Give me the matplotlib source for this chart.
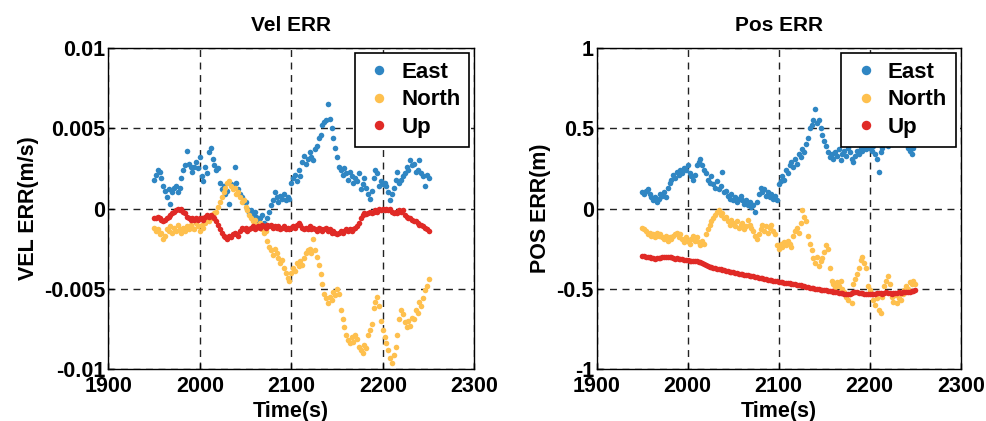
import numpy as np
import matplotlib
matplotlib.use("Agg")
import matplotlib.pyplot as plt

plt.rcParams['font.family'] = ['Liberation Sans', 'DejaVu Sans']
plt.rcParams['font.weight'] = 'bold'

# time stamps (s), one sample every 2 s
tiempo = np.arange(1950, 2251, 2)

# velocity errors, read in units of 1e-3 m/s
vel_east = [1.8, 2.1, 2.4, 2.3, 1.9, 1.4, 1.1, 0.7, 1.2, 0.3,
            1.0, 1.3, 1.4, 1.0, 1.3, 1.9, 2.4, 2.7, 3.6, 2.8,
            2.6, 2.3, 2.6, 2.9, 2.5, 3.2, 2.0, 1.7, 2.6, 2.2,
            3.5, 3.8, 3.1, 2.7, 2.4, 2.5, 1.6, 1.2, 1.4, 0.9,
            1.1, 0.3, 1.5, 1.4, 2.6, 1.6, 1.2, 0.9, 0.7, 0.4,
            0.4, 0.0, -0.3, -0.1, -0.4, -0.2, -0.5, -0.8, -0.6, -0.4,
            -0.9, -1.0, -0.6, -0.2, 0.2, 0.5, 1.0, 0.7, 0.4, 0.8,
            0.6, 0.9, 0.5, 0.7, 0.6, 1.6, 1.9, 2.1, 1.7, 2.4,
            2.0, 2.9, 3.3, 2.8, 3.1, 3.5, 3.2, 3.0, 3.7, 3.9,
            4.4, 4.6, 5.2, 5.4, 5.5, 6.5, 5.6, 5.0, 4.4, 3.8,
            3.2, 2.6, 2.4, 2.1, 2.5, 2.2, 1.8, 2.3, 2.0, 1.6,
            1.9, 1.7, 2.2, 1.2, 1.5, 1.9, 1.3, 0.9, 0.6, 1.1,
            1.9, 2.4, 2.2, 1.4, 1.7, 1.5, 1.6, 1.4, 1.0, 0.5,
            0.9, 1.3, 1.8, 2.3, 1.6, 1.8, 2.0, 2.2, 2.6, 2.4,
            3.0, 2.7, 2.8, 2.3, 2.4, 3.0, 2.2, 2.0, 1.4, 2.1,
            1.9]
vel_north = [-1.2, -1.4, -1.3, -1.6, -1.5, -1.9, -1.7, -1.3, -1.4, -1.1,
             -1.5, -1.2, -1.4, -1.0, -1.3, -1.5, -1.2, -1.4, -1.1, -1.3,
             -1.0, -1.2, -1.3, -0.9, -1.1, -1.4, -1.0, -1.2, -0.9, -0.7,
             -0.8, -0.5, -0.6, -0.3, -0.2, 0.1, 0.4, 0.7, 1.0, 1.3,
             1.6, 1.7, 1.4, 1.2, 1.3, 0.9, 1.0, 0.7, 0.4, 0.5,
             0.1, -0.1, -0.4, -0.6, -0.8, -0.7, -1.0, -1.1, -0.9, -1.3,
             -1.5, -1.4, -2.0, -2.4, -2.6, -2.9, -2.5, -2.8, -3.1, -3.4,
             -3.2, -3.7, -4.0, -4.3, -4.5, -4.0, -3.7, -3.9, -3.4, -3.6,
             -3.3, -3.5, -3.1, -2.8, -2.6, -2.5, -2.8, -1.9, -2.6, -3.0,
             -3.5, -4.1, -4.7, -5.3, -5.6, -5.9, -5.5, -5.7, -5.2, -5.4,
             -5.0, -5.3, -6.3, -6.9, -7.4, -7.9, -8.2, -8.4, -8.0, -8.3,
             -7.9, -8.1, -8.6, -8.8, -9.0, -8.5, -8.7, -7.9, -7.6, -7.2,
             -6.2, -5.8, -5.5, -6.1, -7.0, -7.6, -8.0, -8.4, -8.8, -9.3,
             -9.6, -9.1, -8.6, -7.9, -6.9, -6.3, -6.6, -7.1, -7.4, -7.0,
             -7.3, -6.8, -6.9, -6.3, -6.5, -5.8, -6.1, -5.6, -5.1, -4.8,
             -4.4]
vel_up = [-0.6, -0.6, -0.5, -0.6, -0.7, -0.8, -0.7, -0.6, -0.5, -0.4,
          -0.3, -0.2, -0.1, 0.0, -0.1, 0.0, -0.2, -0.3, -0.5, -0.6,
          -0.7, -0.6, -0.7, -0.6, -0.7, -0.6, -0.6, -0.7, -0.5, -0.4,
          -0.5, -0.4, -0.5, -0.6, -0.8, -1.0, -1.3, -1.5, -1.7, -1.8,
          -1.9, -1.7, -1.8, -1.6, -1.5, -1.6, -1.7, -1.4, -1.2, -1.3,
          -1.2, -1.4, -1.3, -1.2, -1.1, -1.3, -1.2, -1.1, -1.2, -1.0,
          -1.1, -1.2, -1.0, -1.1, -1.0, -1.2, -1.1, -1.2, -1.1, -1.3,
          -1.2, -1.1, -1.3, -1.2, -1.3, -1.2, -1.1, -1.2, -1.0, -0.9,
          -1.0, -1.2, -1.3, -1.2, -1.3, -1.1, -1.3, -1.2, -1.3, -1.4,
          -1.2, -1.3, -1.4, -1.3, -1.2, -1.4, -1.3, -1.5, -1.4, -1.5,
          -1.6, -1.5, -1.4, -1.5, -1.4, -1.3, -1.4, -1.3, -1.4, -1.3,
          -1.2, -1.1, -0.9, -0.6, -0.4, -0.3, -0.35, -0.3, -0.2, -0.3,
          -0.2, -0.1, -0.2, 0.0, -0.1, 0.0, -0.1, 0.0, -0.1, -0.05,
          -0.2, -0.3, -0.2, -0.3, -0.1, -0.2, -0.1, -0.4, -0.5, -0.6,
          -0.6, -0.7, -0.8, -0.8, -0.9, -1.0, -1.0, -1.1, -1.2, -1.3,
          -1.4]

# position errors (m)
pos_east = [0.10, 0.09, 0.11, 0.12, 0.09, 0.07, 0.05, 0.07, 0.04, 0.06,
            0.09, 0.08, 0.10, 0.07, 0.13, 0.16, 0.18, 0.21, 0.19, 0.23,
            0.21, 0.24, 0.22, 0.25, 0.24, 0.27, 0.22, 0.20, 0.18, 0.21,
            0.27, 0.29, 0.31, 0.27, 0.24, 0.22, 0.18, 0.16, 0.20, 0.15,
            0.13, 0.17, 0.12, 0.14, 0.23, 0.10, 0.11, 0.08, 0.06, 0.09,
            0.05, 0.07, 0.04, 0.06, 0.08, 0.05, 0.03, 0.05, 0.02, 0.04,
            0.01, 0.02, -0.02, 0.04, 0.09, 0.13, 0.10, 0.12, 0.08, 0.10,
            0.07, 0.09, 0.06, 0.08, 0.05, 0.15, 0.17, 0.20, 0.18, 0.24,
            0.22, 0.27, 0.29, 0.26, 0.31, 0.28, 0.34, 0.32, 0.37, 0.35,
            0.40, 0.44, 0.50, 0.52, 0.55, 0.62, 0.53, 0.55, 0.50, 0.46,
            0.42, 0.39, 0.35, 0.32, 0.34, 0.31, 0.35, 0.33, 0.37, 0.30,
            0.34, 0.36, 0.33, 0.38, 0.35, 0.31, 0.29, 0.33, 0.36, 0.34,
            0.38, 0.36, 0.39, 0.37, 0.40, 0.38, 0.36, 0.39, 0.34, 0.31,
            0.23, 0.35, 0.38, 0.40, 0.41, 0.39, 0.42, 0.40, 0.43, 0.44,
            0.42, 0.45, 0.43, 0.44, 0.41, 0.40, 0.38, 0.36, 0.34, 0.38,
            0.40]
pos_north = [-0.12, -0.13, -0.14, -0.16, -0.15, -0.17, -0.16, -0.18, -0.15, -0.17,
             -0.16, -0.18, -0.19, -0.17, -0.20, -0.18, -0.19, -0.17, -0.16, -0.15,
             -0.18, -0.16, -0.19, -0.21, -0.18, -0.20, -0.22, -0.19, -0.17, -0.20,
             -0.18, -0.21, -0.23, -0.20, -0.22, -0.16, -0.13, -0.10, -0.08, -0.06,
             -0.04, -0.02, -0.01, -0.04, -0.03, -0.06, -0.05, -0.08, -0.10, -0.07,
             -0.09, -0.11, -0.08, -0.12, -0.10, -0.09, -0.13, -0.11, -0.07, -0.10,
             -0.12, -0.14, -0.17, -0.19, -0.16, -0.13, -0.10, -0.14, -0.11, -0.15,
             -0.12, -0.10, -0.14, -0.16, -0.23, -0.25, -0.22, -0.24, -0.21, -0.23,
             -0.20, -0.22, -0.24, -0.17, -0.14, -0.12, -0.15, -0.09, -0.01, -0.05,
             -0.08, -0.17, -0.22, -0.26, -0.31, -0.34, -0.30, -0.36, -0.33, -0.31,
             -0.27, -0.23, -0.25, -0.37, -0.45, -0.47, -0.49, -0.46, -0.48, -0.45,
             -0.50, -0.52, -0.55, -0.57, -0.53, -0.59, -0.47, -0.44, -0.41, -0.37,
             -0.32, -0.30, -0.34, -0.37, -0.48, -0.51, -0.53, -0.57, -0.60, -0.56,
             -0.63, -0.65, -0.55, -0.48, -0.45, -0.42, -0.47, -0.55, -0.58, -0.54,
             -0.59, -0.56, -0.57, -0.53, -0.51, -0.48, -0.50, -0.46, -0.47, -0.45,
             -0.47]
pos_up = [-0.295, -0.297, -0.300, -0.302, -0.305, -0.310, -0.310, -0.312, -0.310, -0.308,
          -0.306, -0.305, -0.304, -0.303, -0.300, -0.302, -0.305, -0.310, -0.312, -0.310,
          -0.313, -0.315, -0.316, -0.318, -0.320, -0.322, -0.325, -0.326, -0.327, -0.328,
          -0.330, -0.332, -0.335, -0.340, -0.346, -0.352, -0.358, -0.363, -0.367, -0.370,
          -0.373, -0.376, -0.378, -0.380, -0.383, -0.386, -0.388, -0.390, -0.393, -0.396,
          -0.398, -0.400, -0.403, -0.405, -0.408, -0.410, -0.412, -0.414, -0.416, -0.418,
          -0.420, -0.423, -0.425, -0.428, -0.430, -0.433, -0.436, -0.438, -0.440, -0.443,
          -0.446, -0.448, -0.450, -0.452, -0.454, -0.455, -0.457, -0.460, -0.462, -0.464,
          -0.465, -0.467, -0.469, -0.470, -0.472, -0.474, -0.476, -0.478, -0.480, -0.484,
          -0.488, -0.491, -0.494, -0.496, -0.498, -0.500, -0.502, -0.503, -0.505, -0.506,
          -0.508, -0.510, -0.512, -0.514, -0.516, -0.518, -0.520, -0.522, -0.524, -0.526,
          -0.528, -0.530, -0.532, -0.534, -0.530, -0.525, -0.520, -0.518, -0.520, -0.524,
          -0.526, -0.528, -0.530, -0.532, -0.534, -0.530, -0.532, -0.535, -0.530, -0.526,
          -0.524, -0.528, -0.530, -0.526, -0.522, -0.525, -0.528, -0.530, -0.527, -0.524,
          -0.526, -0.523, -0.525, -0.522, -0.520, -0.523, -0.520, -0.518, -0.515, -0.512,
          -0.510]

nombres = ["East", "North", "Up"]
colores = ["#2f86c3", "#fec04e", "#e02a26"]

xt = [1900, 2000, 2100, 2200, 2300]
yt_vel = [-0.01, -0.005, 0, 0.005, 0.01]
ylab_vel = ["-0.01", "-0.005", "0", "0.005", "0.01"]
yt_pos = [-1, -0.5, 0, 0.5, 1]
ylab_pos = ["-1", "-0.5", "0", "0.5", "1"]

fig = plt.figure(figsize=(9.87, 4.21), dpi=100)
ax1 = fig.add_axes([0.1097, 0.1235, 0.3708, 0.7625])
ax2 = fig.add_axes([0.6046, 0.1235, 0.3688, 0.7625])

series_vel = [np.array(vel_east) * 1e-3, np.array(vel_north) * 1e-3, np.array(vel_up) * 1e-3]
series_pos = [pos_east, pos_north, pos_up]

def dibujar(ax, series, titulo, ylabel, yt, ylab):
    for s, nom, col in zip(series, nombres, colores):
        ax.plot(tiempo, s, "o", ms=4.0, mec="none", color=col, label=nom)
    ax.set_xlim(1900, 2300)
    ax.set_ylim(yt[0], yt[-1])
    ax.set_xticks(xt)
    ax.set_xticklabels([str(v) for v in xt])
    ax.set_yticks(yt)
    ax.set_yticklabels(ylab)
    ax.tick_params(direction="in", length=4, width=1, labelsize=15.5)
    ax.tick_params(axis="x", pad=5)
    ax.tick_params(axis="y", pad=2)
    ax.grid(True, color="#222222", linestyle=(0, (5, 4)), linewidth=1)
    for sp in ax.spines.values():
        sp.set_linewidth(1)
    ax.set_title(titulo, fontsize=15, fontweight="bold", pad=12)
    ax.set_xlabel("Time(s)", fontsize=15.5, fontweight="bold", labelpad=3)
    ax.set_ylabel(ylabel, fontsize=15.5, fontweight="bold", labelpad=4)
    leg = ax.legend(loc="upper right", bbox_to_anchor=(0.987, 0.985), borderaxespad=0,
                    fontsize=16, markerscale=1.7, handlelength=1.4, handletextpad=0.3,
                    labelspacing=0.3, fancybox=False, framealpha=1, edgecolor="black")
    leg.get_frame().set_linewidth(1.2)
    leg.set_zorder(5)

dibujar(ax1, series_vel, "Vel ERR", "VEL ERR(m/s)", yt_vel, ylab_vel)
dibujar(ax2, series_pos, "Pos ERR", "POS ERR(m)", yt_pos, ylab_pos)

plt.savefig("out.png", dpi=100)
